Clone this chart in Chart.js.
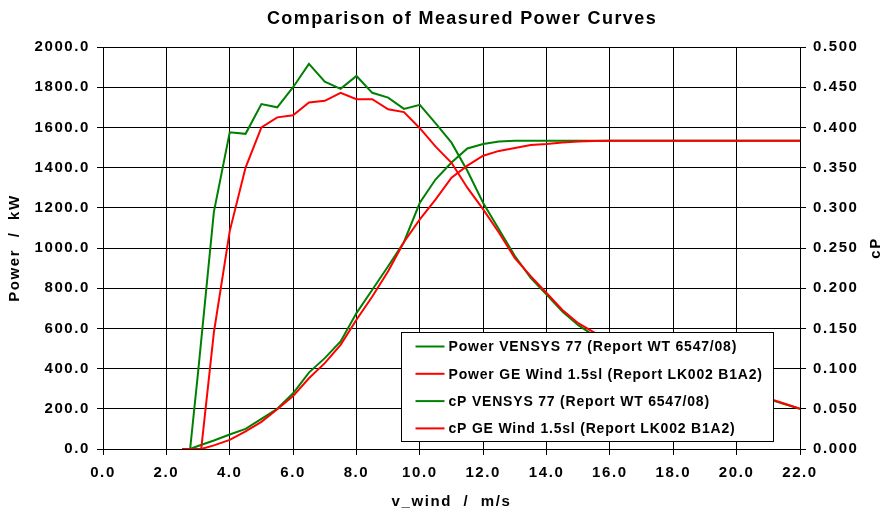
<!DOCTYPE html>
<html>
<head>
<meta charset="utf-8">
<script src="https://cdn.jsdelivr.net/npm/chart.js@4.4.1/dist/chart.umd.min.js"></script>
<style>
  html, body { margin: 0; padding: 0; background: #fff; }
</style>
</head>
<body>
<canvas id="powerChart" width="882" height="512"></canvas>
<script>
// Daten
var chartTitle = "Comparison of Measured Power Curves";
var seriesNames = [
  "Power VENSYS 77 (Report WT 6547/08)",
  "Power GE Wind 1.5sl (Report LK002 B1A2)",
  "cP VENSYS 77 (Report WT 6547/08)",
  "cP GE Wind 1.5sl (Report LK002 B1A2)"
];

// v_wind in m/s
var windVensys = [2.5, 2.75, 3.0, 3.5, 4.0, 4.5, 5.0, 5.5, 6.0, 6.5, 7.0, 7.5, 8.0, 8.5, 9.0, 9.5, 10.0, 10.5, 11.0, 11.5, 12.0, 12.5,
  13.0, 13.5, 14.0, 14.5, 15.0, 15.5, 16.0, 16.5, 17.0, 17.5, 18.0, 18.5, 19.0, 19.5, 20.0, 20.5, 21.0, 21.5, 22.0];
var windGE = [2.5, 3.1, 3.5, 4.0, 4.5, 5.0, 5.5, 6.0, 6.5, 7.0, 7.5, 8.0, 8.5, 9.0, 9.5, 10.0, 10.5, 11.0, 11.5, 12.0, 12.5,
  13.0, 13.5, 14.0, 14.5, 15.0, 15.5, 16.0, 16.5, 17.0, 17.5, 18.0, 18.5, 19.0, 19.5, 20.0, 20.5, 21.0, 21.5, 22.0];

// Leistung in kW
var powerVensys = [0, 0, 15, 42, 72, 100, 150, 200, 277, 380, 452, 535, 676, 792, 909, 1030, 1225, 1342, 1425, 1495, 1517, 1530,
  1533, 1533, 1533, 1533, 1533, 1533, 1533, 1533, 1533, 1533, 1533, 1533, 1533, 1533, 1533, 1533, 1533, 1533, 1533];
var powerGE = [0, 0, 18, 45, 88, 135, 198, 263, 352, 427, 518, 643, 759, 884, 1030, 1142, 1242, 1350, 1410, 1459, 1483,
  1497, 1512, 1517, 1525, 1530, 1532, 1533, 1533, 1533, 1533, 1533, 1533, 1533, 1533, 1533, 1533, 1533, 1533, 1533];

// Leistungsbeiwert cP
var cpVensys = [0, 0, 0.095, 0.295, 0.394, 0.392, 0.429, 0.425, 0.450, 0.479, 0.457, 0.448, 0.464, 0.443, 0.437, 0.423, 0.428, 0.405, 0.381, 0.346, 0.306, 0.273,
  0.240, 0.213, 0.192, 0.171, 0.154, 0.141, 0.130, 0.121, 0.112, 0.104, 0.097, 0.090, 0.084, 0.078, 0.072, 0.067, 0.062, 0.056, 0.050];
var cpGE = [0, 0, 0.145, 0.271, 0.350, 0.400, 0.4125, 0.415, 0.431, 0.433, 0.443, 0.435, 0.435, 0.4225, 0.419, 0.399, 0.376, 0.356, 0.325, 0.298, 0.269,
  0.2375, 0.215, 0.194, 0.173, 0.1565, 0.145, 0.134, 0.124, 0.115, 0.107, 0.099, 0.092, 0.086, 0.080, 0.074, 0.068, 0.063, 0.0565, 0.050];

var GREEN = "#008000";
var RED = "#ff0000";
var FONT = '"Liberation Sans", Arial, sans-serif';

function pairs(xs, ys) {
  return xs.map(function (x, i) { return { x: x, y: ys[i] }; });
}

// Titel, cP-Beschriftung und Legende selbst zeichnen
var extras = {
  id: "extras",
  beforeDraw: function (chart) {
    chart.ctx.letterSpacing = "1.6px";
  },
  afterDraw: function (chart) {
    var ctx = chart.ctx;
    var ca = chart.chartArea;
    ctx.save();
    ctx.fillStyle = "#000";
    ctx.textBaseline = "middle";

    ctx.letterSpacing = "1.4px";
    ctx.font = "bold 18px " + FONT;
    ctx.textAlign = "center";
    ctx.fillText(chartTitle, 462, 19);

    ctx.letterSpacing = "1.6px";
    ctx.font = "bold 15px " + FONT;
    ctx.save();
    ctx.translate(876, (ca.top + ca.bottom) / 2);
    ctx.rotate(-Math.PI / 2);
    ctx.fillText("cP", 0, 0);
    ctx.restore();

    // Legende
    var bx = 401.5, by = 332.5, bw = 372, bh = 109;
    ctx.fillStyle = "#fff";
    ctx.fillRect(bx, by, bw, bh);
    ctx.strokeStyle = "#000";
    ctx.lineWidth = 1;
    ctx.strokeRect(bx, by, bw, bh);
    ctx.letterSpacing = "0.8px";
    ctx.font = "bold 14px " + FONT;
    ctx.textAlign = "left";
    chart.data.datasets.forEach(function (ds, i) {
      var y = by + 14 + i * 27.3;
      ctx.strokeStyle = ds.borderColor;
      ctx.lineWidth = 2;
      ctx.beginPath();
      ctx.moveTo(bx + 14, y);
      ctx.lineTo(bx + 43, y);
      ctx.stroke();
      ctx.fillStyle = "#000";
      ctx.fillText(ds.label, bx + 47, y + 1);
    });
    ctx.restore();
  }
};

var tickFont = { family: FONT, size: 15, weight: "bold" };

var ctx = document.getElementById("powerChart").getContext("2d");
var powerChart = new Chart(ctx, {
  type: "line",
  data: {
    datasets: [
      { label: seriesNames[0], data: pairs(windVensys, powerVensys), borderColor: GREEN, yAxisID: "y", order: 1 },
      { label: seriesNames[1], data: pairs(windGE, powerGE), borderColor: RED, yAxisID: "y", order: 0 },
      { label: seriesNames[2], data: pairs(windVensys, cpVensys), borderColor: GREEN, yAxisID: "y1", order: 1 },
      { label: seriesNames[3], data: pairs(windGE, cpGE), borderColor: RED, yAxisID: "y1", order: 0 }
    ]
  },
  options: {
    responsive: false,
    animation: false,
    layout: { padding: { top: 47, left: 0, right: 0, bottom: 0 } },
    elements: {
      line: { borderWidth: 2, tension: 0, fill: false },
      point: { radius: 0, hoverRadius: 0 }
    },
    plugins: {
      legend: { display: false },
      title: { display: false },
      tooltip: { enabled: false }
    },
    scales: {
      x: {
        type: "linear",
        min: 0,
        max: 22,
        ticks: {
          stepSize: 2,
          autoSkip: false,
          maxRotation: 0,
          padding: 9,
          color: "#000",
          font: tickFont,
          callback: function (v) { return v.toFixed(1); }
        },
        grid: { color: "#000", lineWidth: 1, tickLength: 6 },
        border: { color: "#000" },
        title: {
          display: true,
          text: "v_wind  /  m/s",
          color: "#000",
          font: tickFont,
          padding: { top: 0, bottom: 1 }
        },
        afterFit: function (s) { s.height = 63; }
      },
      y: {
        position: "left",
        min: 0,
        max: 2000,
        ticks: {
          stepSize: 200,
          padding: 7,
          color: "#000",
          font: tickFont,
          callback: function (v) { return v.toFixed(1); }
        },
        grid: { color: "#000", lineWidth: 1, tickLength: 6 },
        border: { color: "#000" },
        title: {
          display: true,
          text: "Power  /  kW",
          color: "#000",
          font: tickFont,
          padding: { top: 6, bottom: 0 }
        },
        afterFit: function (s) { s.width = 103; }
      },
      y1: {
        position: "right",
        min: 0,
        max: 0.5,
        ticks: {
          stepSize: 0.05,
          padding: 7,
          color: "#000",
          font: tickFont,
          callback: function (v) { return v.toFixed(3); }
        },
        grid: { drawOnChartArea: false, color: "#000", lineWidth: 1, tickLength: 6 },
        border: { color: "#000" },
        afterFit: function (s) { s.width = 82; }
      }
    }
  },
  plugins: [extras]
});
</script>
</body>
</html>
